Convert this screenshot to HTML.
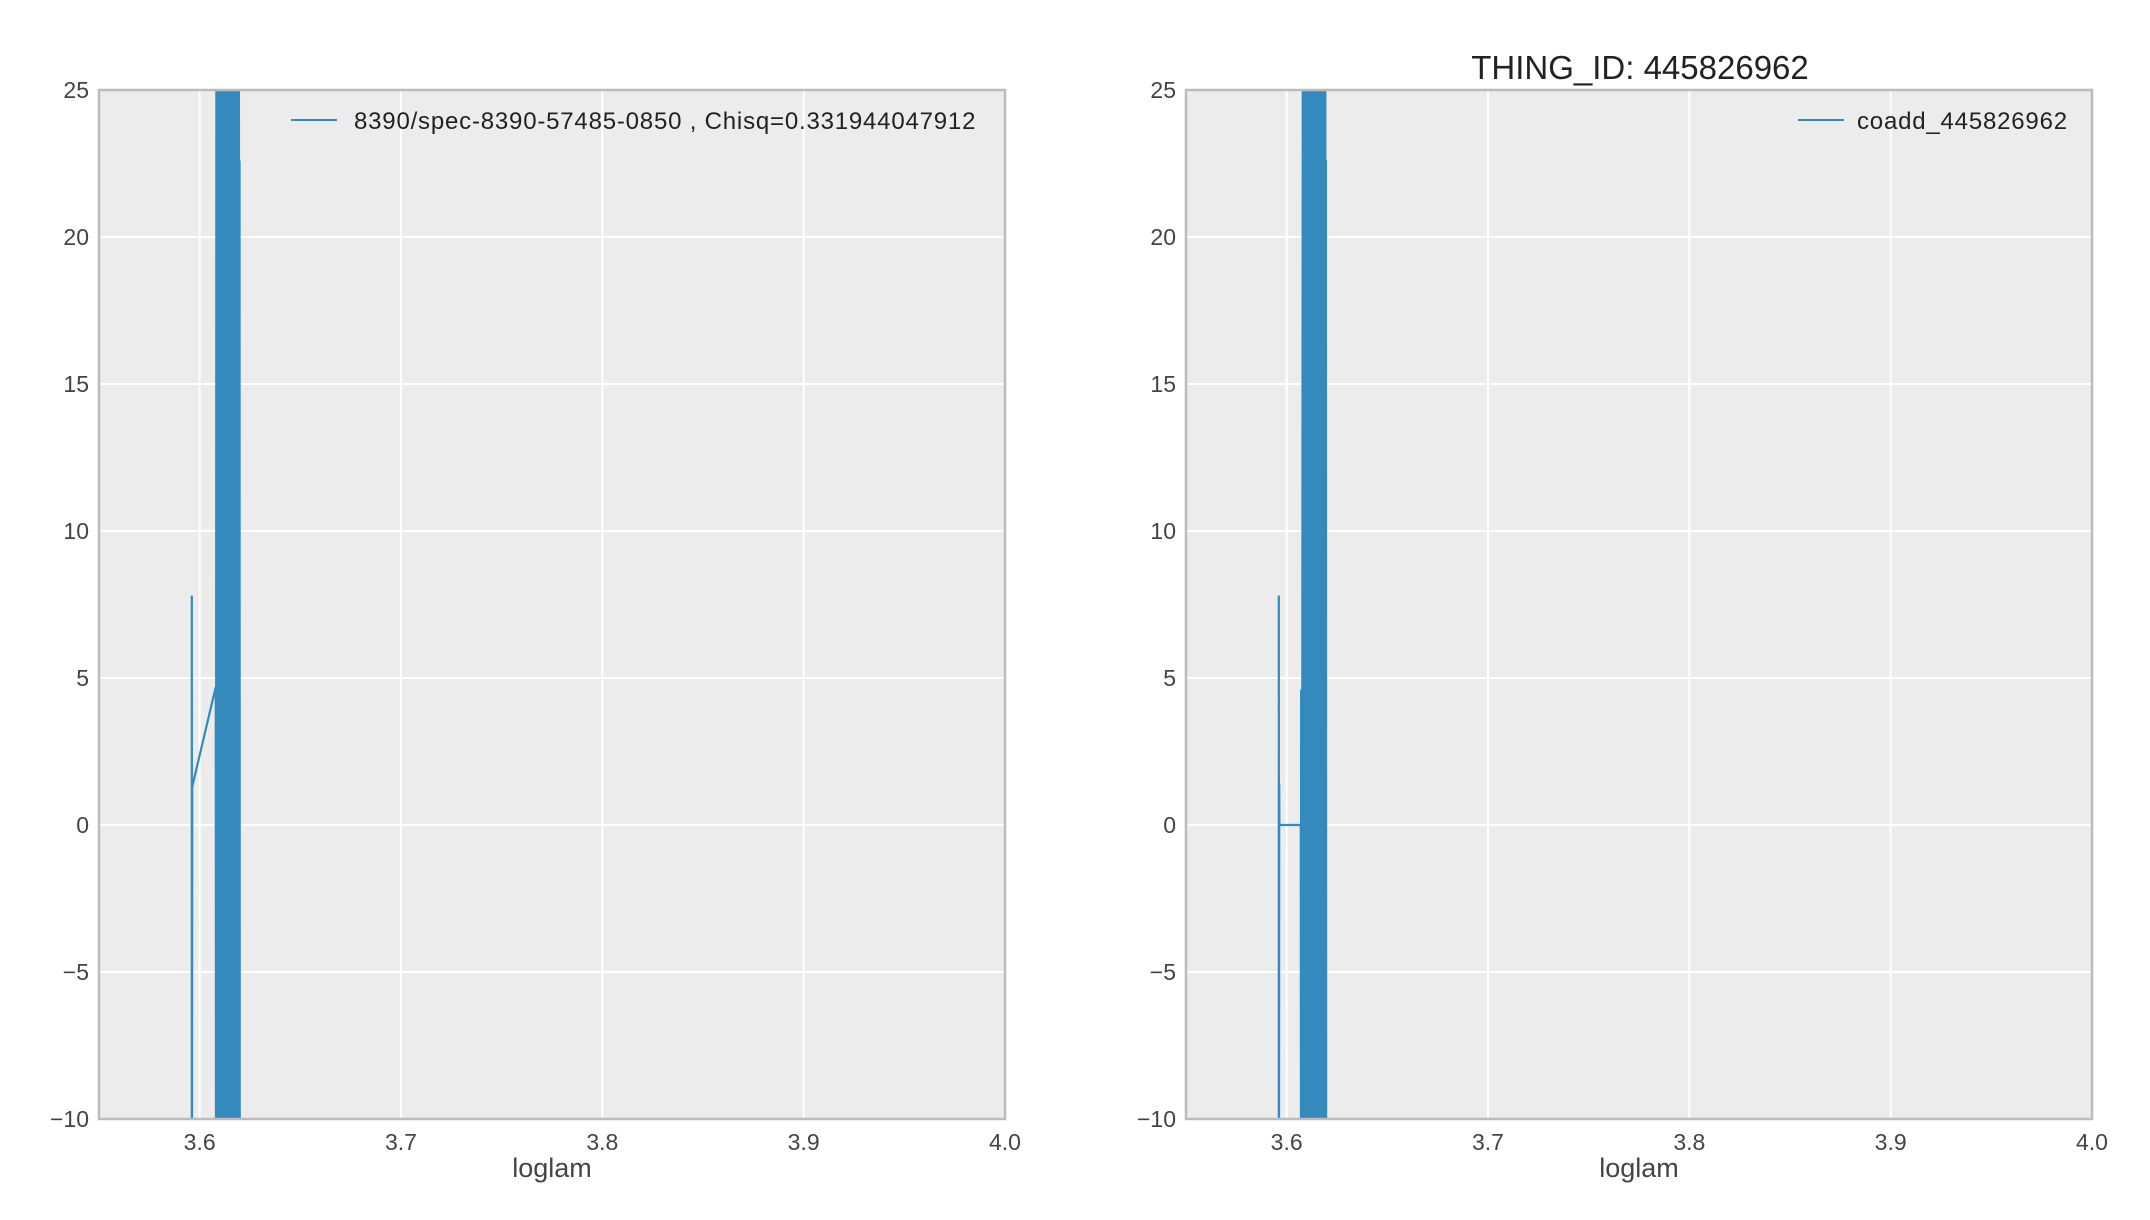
<!DOCTYPE html>
<html><head><meta charset="utf-8"><style>
body{margin:0;background:#fff;}
svg{display:block;font-family:"Liberation Sans",sans-serif;}
</style></head><body>
<svg id="fig" width="2150" height="1220" viewBox="0 0 2150 1220" xmlns="http://www.w3.org/2000/svg">
<text x="1640" y="79" font-size="33" text-anchor="middle" fill="#222">THING_ID: 445826962</text>
</svg>
<script>
const xTicks = [3.6, 3.7, 3.8, 3.9, 4.0];
const xTickLabels = ["3.6", "3.7", "3.8", "3.9", "4.0"];
const yTicks = [-10, -5, 0, 5, 10, 15, 20, 25];
const yTickLabels = ["\u221210", "\u22125", "0", "5", "10", "15", "20", "25"];
const xDomain = [3.55, 4.0];
const yDomain = [-10, 25];
const specX = [3.5961,3.5961,3.5962,3.5963,3.6080,3.6081,3.6083,3.6084,3.6085,3.6086,3.6087,3.6088,3.6090,3.6091,3.6093,3.6094,3.6096,3.6097,3.6099,3.6100,3.6102,3.6103,3.6105,3.6106,3.6108,3.6109,3.6111,3.6112,3.6114,3.6115,3.6117,3.6118,3.6120,3.6121,3.6123,3.6124,3.6126,3.6127,3.6129,3.6130,3.6132,3.6133,3.6135,3.6136,3.6138,3.6139,3.6141,3.6142,3.6144,3.6145,3.6147,3.6148,3.6150,3.6151,3.6153,3.6154,3.6156,3.6157,3.6159,3.6160,3.6162,3.6163,3.6165,3.6166,3.6168,3.6169,3.6171,3.6172,3.6174,3.6175,3.6177,3.6178,3.6180,3.6181,3.6183,3.6184,3.6186,3.6187,3.6189,3.6190,3.6192,3.6193,3.6195,3.6196,3.6198,3.6199,3.6200];
const specY = [-10,7.8,-10,1.3,4.7,-10,25,12.8,2.8,-10,25,-3,25,-10,25,-10,25,-10,25,-10,25,-10,25,-10,25,-10,25,-10,25,-10,25,-10,25,-10,25,-10,25,-10,25,-10,25,-10,25,-10,25,-10,25,-10,25,-10,25,-10,25,-10,25,-10,25,-10,25,-10,25,-10,25,-10,25,-10,25,-10,25,-10,25,-10,25,-10,25,20,25,-10,25,-10,25,-10,25,-10,22.6,-10,-10];
const coaddX = [3.5961,3.5961,3.5962,3.5963,3.5964,3.6070,3.6071,3.6072,3.6075,3.6076,3.6080,3.6081,3.6083,3.6084,3.6085,3.6086,3.6087,3.6088,3.6090,3.6091,3.6093,3.6094,3.6096,3.6097,3.6099,3.6100,3.6102,3.6103,3.6105,3.6106,3.6108,3.6109,3.6111,3.6112,3.6114,3.6115,3.6117,3.6118,3.6120,3.6121,3.6123,3.6124,3.6126,3.6127,3.6129,3.6130,3.6132,3.6133,3.6135,3.6136,3.6138,3.6139,3.6141,3.6142,3.6144,3.6145,3.6147,3.6148,3.6150,3.6151,3.6153,3.6154,3.6156,3.6157,3.6159,3.6160,3.6162,3.6163,3.6165,3.6166,3.6168,3.6169,3.6171,3.6172,3.6174,3.6175,3.6177,3.6178,3.6180,3.6181,3.6183,3.6184,3.6186,3.6187,3.6189,3.6190,3.6192,3.6193,3.6195,3.6196,3.6198,3.6199,3.6200];
const coaddY = [-10,7.8,-10,1.4,0,0,-10,4.6,0,-10,25,-10,25,-3,25,-10,25,-10,25,-10,25,-10,25,-10,25,-10,25,-10,25,-10,25,-10,25,-10,25,-10,25,-10,25,-10,25,-10,25,-10,25,-10,25,-10,25,-10,25,-10,25,-10,25,-10,25,-10,25,-10,25,-10,25,-10,25,-10,25,-10,25,-10,25,12.8,25,-10,25,-10,25,-10,25,-10,25,-10,25,-10,25,-10,25,-10,22.6,-10,-10];

const NS = "http://www.w3.org/2000/svg";
const svg = document.getElementById("fig");
function mk(tag, attrs, parent) {
  const e = document.createElementNS(NS, tag);
  for (const k in attrs) e.setAttribute(k, attrs[k]);
  (parent || svg).appendChild(e);
  return e;
}
function panel(id, left, right, top, bottom, xs, ys, legendText, legX1, legTextX) {
  const sx = v => left + (v - xDomain[0]) / (xDomain[1] - xDomain[0]) * (right - left);
  const sy = v => bottom - (v - yDomain[0]) / (yDomain[1] - yDomain[0]) * (bottom - top);
  const g = mk("g", {});
  
  
  const bg = mk("rect", {x:left, y:top, width:right-left, height:bottom-top, fill:"#ececec"}, g);
  
  
  yTicks.forEach((t, i) => {
    const y = sy(t);
    const gl = mk("line", {x1:left, x2:right, y1:y, y2:y, stroke:"#fff", "stroke-width":2}, g);
    
    
    const tl = mk("text", {x:left-10, y:y+8, "font-size":23, "text-anchor":"end", fill:"#444"}, g);
    
    
    tl.textContent = yTickLabels[i];
  });
  xTicks.forEach((t, i) => {
    const x = sx(t);
    const gl = mk("line", {x1:x, x2:x, y1:top, y2:bottom, stroke:"#fff", "stroke-width":2}, g);
    
    
    const tl = mk("text", {x:x, y:bottom+31, "font-size":23, "text-anchor":"middle", fill:"#444"}, g);
    
    
    tl.textContent = xTickLabels[i];
  });
  const cp = mk("clipPath", {id: id + "-clip"}, g);
  mk("rect", {x:left, y:top, width:right-left, height:bottom-top}, cp);
  const pts = xs.map((v, i) => sx(v).toFixed(2) + "," + sy(ys[i]).toFixed(2)).join(" ");
  const line = mk("polyline", {points:pts, fill:"none", stroke:"#348abd", "stroke-width":2.2, "clip-path":"url(#" + id + "-clip)"}, g);
  
  
  const fr = mk("rect", {x:left, y:top, width:right-left, height:bottom-top, fill:"none", stroke:"#bcbcbc", "stroke-width":2.5}, g);
  
  
  const xl = mk("text", {x:(left+right)/2, y:bottom+58, "font-size":27, "text-anchor":"middle", fill:"#444"}, g);
  
  
  xl.textContent = "loglam";
  const lg = mk("g", {}, g);
  
  
  mk("line", {x1:legX1, x2:legX1+46, y1:120, y2:120, stroke:"#348abd", "stroke-width":2}, lg);
  const lt = mk("text", {x:legTextX, y:129, "font-size":24, "letter-spacing":0.8, fill:"#222"}, lg);
  lt.textContent = legendText;
}
panel("spec", 99, 1005, 90, 1119, specX, specY, "8390/spec-8390-57485-0850  , Chisq=0.331944047912", 291, 354);
panel("coadd", 1186, 2092, 90, 1119, coaddX, coaddY, "coadd_445826962", 1798, 1857);
</script>
</body></html>
